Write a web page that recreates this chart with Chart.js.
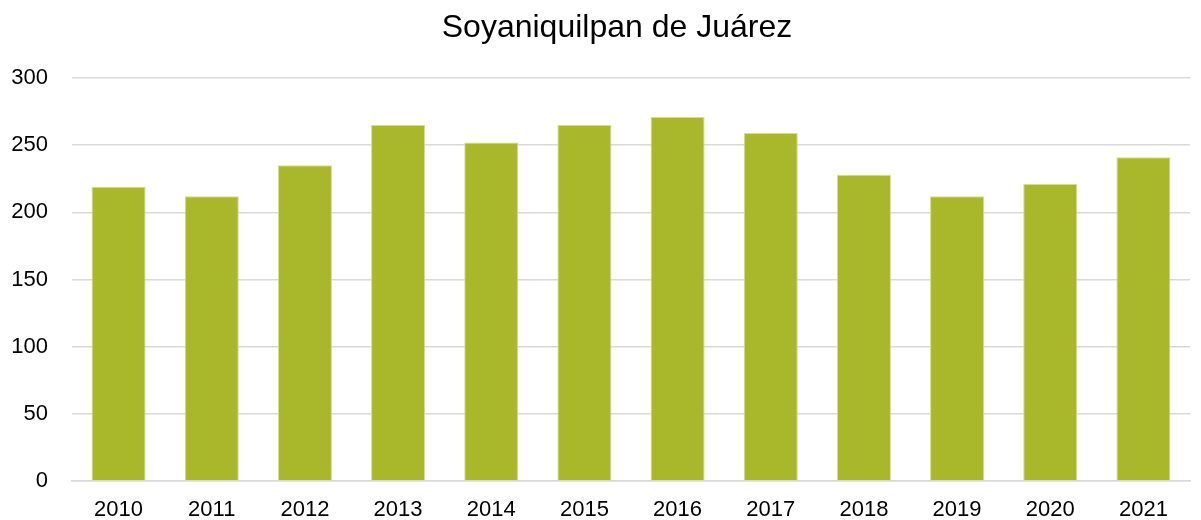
<!DOCTYPE html>
<html>
<head>
<meta charset="utf-8">
<script src="https://cdn.jsdelivr.net/npm/chart.js@4/dist/chart.umd.min.js"></script>
<style>
    html, body { margin: 0; padding: 0; background: #fff; }
    #wrap { width: 1201px; height: 520px; position: relative; }
</style>
</head>
<body>
<div id="wrap"><canvas id="barChart"></canvas></div>
<script>
const years = ['2010', '2011', '2012', '2013', '2014', '2015', '2016', '2017', '2018', '2019', '2020', '2021'];
const values = [219, 212, 235, 265, 252, 265, 271, 259, 228, 212, 221, 241];
const yTicks = [0, 50, 100, 150, 200, 250, 300];
const chartTitle = 'Soyaniquilpan de Juárez';

const fontFamily = '"Liberation Sans", Arial, sans-serif';

// nudge the title a bit to the right, original is centred over the plot more than the canvas
const titleShift = {
    id: 'titleShift',
    afterLayout(chart) {
        if (chart.titleBlock) chart.titleBlock.left += 44;
    }
};

function initializeChart(id) {
    const canvas = document.getElementById(id);
    if (!canvas) return null;

    const config = {
        type: 'bar',
        data: {
            labels: years,
            datasets: [{
                data: values,
                backgroundColor: '#a8b82a',
                borderColor: '#d3dc98',
                borderWidth: 1,
                barPercentage: 0.58,
                categoryPercentage: 1
            }]
        },
        options: {
            responsive: true,
            maintainAspectRatio: false,
            animation: false,
            layout: { padding: { top: 5, right: 11, left: 0, bottom: 0 } },
            plugins: {
                legend: { display: false },
                tooltip: { enabled: false },
                title: {
                    display: true,
                    text: chartTitle,
                    color: '#000',
                    font: { family: fontFamily, size: 32, weight: 'normal', lineHeight: 1.2 },
                    padding: { top: 4, bottom: 30.6 }
                }
            },
            scales: {
                y: {
                    min: 0,
                    max: 300,
                    afterBuildTicks: scale => {
                        scale.ticks = yTicks.map(v => ({ value: v }));
                    },
                    afterFit: scale => { scale.width = 72; },
                    border: { display: false },
                    grid: {
                        color: '#d9d9d9',
                        lineWidth: 1.5,
                        drawTicks: false
                    },
                    ticks: {
                        color: '#000',
                        padding: 24,
                        font: { family: fontFamily, size: 22 }
                    }
                },
                x: {
                    afterFit: scale => { scale.height = 39; },
                    border: { display: true, color: '#d9d9d9', width: 1.5 },
                    grid: { display: false, drawTicks: false },
                    ticks: {
                        color: '#000',
                        padding: 15.8,
                        maxRotation: 0,
                        minRotation: 0,
                        font: { family: fontFamily, size: 22 }
                    }
                }
            }
        },
        plugins: [titleShift]
    };

    return new Chart(canvas.getContext('2d'), config);
}

initializeChart('barChart');
</script>
</body>
</html>
